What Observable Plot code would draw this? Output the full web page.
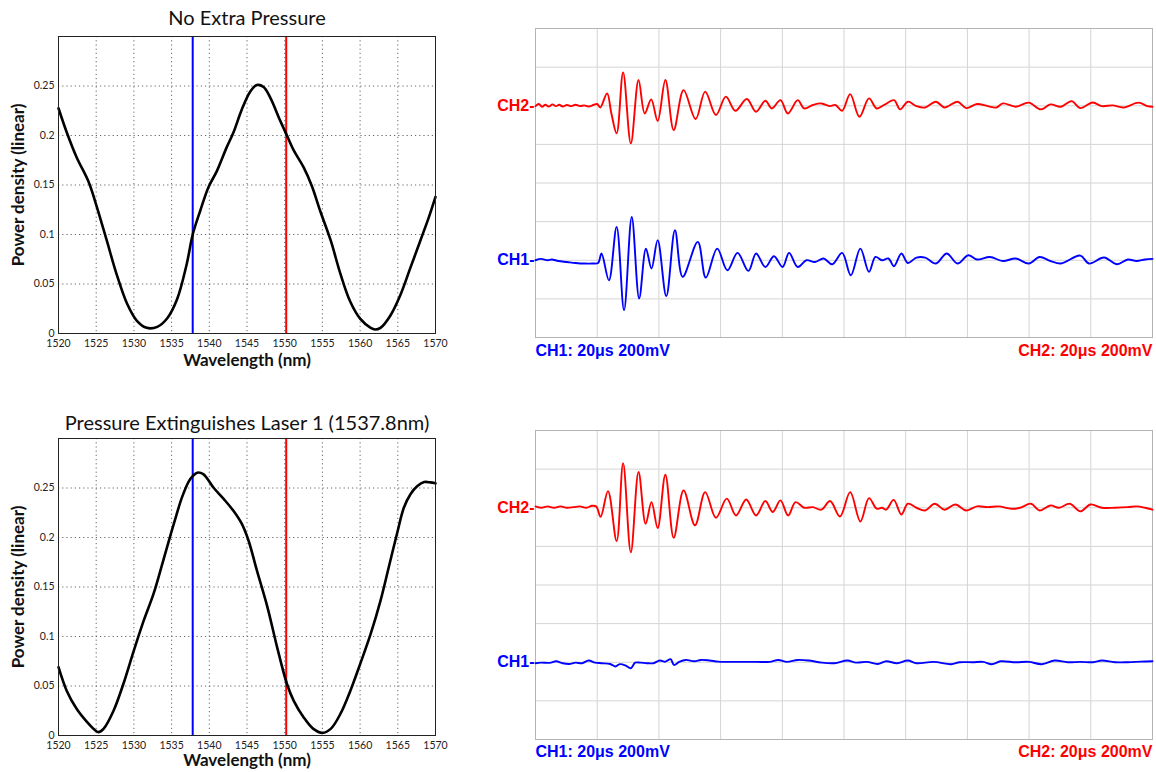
<!DOCTYPE html>
<html><head><meta charset="utf-8">
<script src="https://cdn.jsdelivr.net/npm/d3@7"></script>
<script src="https://cdn.jsdelivr.net/npm/@observablehq/plot@0.6"></script>
<style>
html,body{margin:0;padding:0;background:#fff;}
#root{position:relative;width:1156px;height:772px;overflow:hidden;background:#fff;}
#root > div{position:absolute;}
</style></head><body><div id="root"></div>
<script>
// ---------- Spectra (left) ----------
const wlTop = [1520,1521.1,1522.4,1524,1525.1,1526.4,1527.7,1529.1,1530.4,1531.7,1533.1,1534.4,1535.7,1537,1537.8,1538.8,1539.9,1541,1542.3,1543.2,1544.3,1545.4,1546.3,1547.2,1548.1,1549.4,1550.3,1551.2,1552.5,1553.6,1554.7,1556.1,1557.4,1558.7,1560,1561.4,1562,1562.7,1564,1565.4,1566.7,1568,1569.1,1570];
const pTop = [0.2275,0.203,0.178,0.153,0.1275,0.094,0.06,0.03,0.0128,0.0057,0.0067,0.0151,0.034,0.07,0.1,0.124,0.148,0.164,0.188,0.203,0.226,0.244,0.251,0.249,0.238,0.215,0.2,0.185,0.168,0.149,0.124,0.094,0.06,0.032,0.015,0.0057,0.004,0.0057,0.018,0.04,0.067,0.094,0.117,0.138];
const wlBot = [1520,1521.1,1522.4,1523.8,1524.9,1525.3,1526,1527.3,1528.6,1530,1531.3,1532.6,1533.9,1535.3,1536.4,1537.3,1537.8,1538.4,1539.2,1540.6,1541.9,1543.2,1544.3,1545.2,1546.3,1547.7,1549,1550.3,1551.2,1552.5,1553.8,1555,1556.1,1557.4,1558.7,1560,1561.4,1562.7,1563.8,1564.9,1565.8,1566.7,1567.6,1568.5,1569.3,1570];
const pBot = [0.069,0.045,0.027,0.0135,0.005,0.0034,0.007,0.025,0.052,0.086,0.116,0.143,0.177,0.214,0.241,0.257,0.262,0.2655,0.264,0.25,0.239,0.227,0.214,0.197,0.167,0.13,0.089,0.052,0.035,0.0185,0.0067,0.0027,0.0067,0.022,0.045,0.072,0.1026,0.136,0.17,0.204,0.23,0.244,0.252,0.256,0.2557,0.2547];
const laser1 = 1537.8, laser2 = 1550.2;
const wlTicks = [1520,1525,1530,1535,1540,1545,1550,1555,1560,1565,1570];
const pTicks = [0,0.05,0.1,0.15,0.2,0.25];
const specTitles = ["No Extra Pressure", "Pressure Extinguishes Laser 1 (1537.8nm)"];
const xLabel = "Wavelength (nm)";
const yLabel = "Power density (linear)";

// ---------- Oscilloscope traces (right), t in µs, v in mV ----------
const topCH2_t = [0,1.1,2.1,3.2,4.3,5.5,6.6,7.7,8.8,10.2,11.6,13,14.4,15.8,17.2,18.9,20,21,23.2,24.6,26.3,28.4,30.9,33.4,35.4,37.5,39.6,42.1,44.8,48,51.9,55,58.5,61.7,64.8,68.5,71.5,74.5,76.6,79.4,81.8,85,87.1,89.9,92.7,95.5,97.2,99.4,102,105,108.1,110.6,113,116.2,118.2,120.7,123.5,126.3,129.8,132.6,136.8,139.6,143.1,146.6,149.4,151.5,155.7,159.9,163.8,166.9,170.3,173.8,176.6,180.6,183.6,187.1,190.6,195.5,198.3,200];
const topCH2_v = [-2,9,-5,5,-4,7,-2,5,-4,4,-2,5,-2,2,-4,5,9,-9,64,-40,-143,173,-195,133,-40,33,-79,133,-126,81,-69,73,-48,47,-26,35,-31,26,-14,29,-40,29,-14,4,12,-2,4,-26,60,-57,38,-14,4,29,-19,21,-2,-9,21,-9,21,-12,9,-2,-9,12,-5,16,-19,7,-5,24,-12,17,-2,2,-9,16,-2,-5];
const topCH1_t = [0,1.8,3.9,5.3,7.4,10.2,13,15.8,18.6,20.3,21.4,23.8,26.3,28.7,31.2,33.6,35.8,37.6,39.6,42.4,45.2,47.7,52.6,55.2,58.9,62.2,65.5,69,71.5,74.5,77.3,80.1,82.2,85,87.8,90.6,93.4,96.2,99.4,102.2,105.3,108.1,110.2,112.3,114.4,116.2,118.6,120.7,123.5,126.3,129.8,133.3,136.8,140.3,143.1,147.3,151.5,155.7,159.9,163.4,166.9,170.3,176.6,179.4,184.3,188.5,192,194.8,197.6,200];
const topCH1_v = [0,7,0,4,-4,-9,-14,-17,-17,-14,35,-104,173,-259,224,-198,60,-43,104,-186,155,-86,95,-90,60,-52,38,-55,35,-35,21,-35,38,-35,0,-9,9,-21,38,-78,60,-60,17,0,9,-31,35,-14,14,14,-17,35,-17,26,4,17,-4,9,-17,17,-4,-17,24,-17,14,-21,4,-4,4,7];
const botCH2_t = [0,1.8,3.9,6,8.1,10.2,12.3,14.4,16.5,18.3,19.7,21.1,23.5,26.3,28.4,30.9,33.4,35.7,37.6,39.6,42.1,44.8,48,51.7,55,58.5,62,65,68.3,71.5,74.5,76.9,79.4,81.9,84.3,87.1,89.9,92.7,95.5,98.7,102,105.3,108.1,110.6,112.3,113.7,116.1,118.6,120.7,123.5,126.3,129.4,132.6,136.1,139.6,143.1,146.6,150.1,154.3,157.1,160.6,163.4,166.9,169.7,173.2,176.6,179.9,183.6,187.8,192,194.8,197.6,200];
const botCH2_v = [7,0,7,0,7,0,3,7,0,10,7,-47,86,-173,231,-231,185,-83,29,-105,171,-155,90,-91,81,-52,47,-40,43,-40,35,-22,38,-40,29,0,3,-10,35,-45,81,-71,50,-5,0,-10,41,-35,21,0,-14,21,-10,17,-14,7,3,7,-5,0,21,-14,12,0,21,-19,17,0,0,3,7,0,-10];
const botCH1_t = [0,1.8,4.6,6.7,8.8,10.9,13,15.1,17.2,19.3,21.4,24.2,25.9,27.3,29.1,30.9,32.3,34,36.1,38.2,40.3,42.1,43.8,44.9,46.6,48.7,51.5,53.6,56.4,59.2,62,66.2,71.7,75.9,78.7,81.5,85,88.5,92.7,96.9,101.1,103.9,107.4,110.9,113.7,117.2,120.7,123.5,129.1,134.7,137.5,141.7,145.1,147.9,150.8,155.7,159.9,164.1,168.3,172.5,176.6,180.8,183.6,187.8,192,196.2,200];
const botCH1_v = [-5,-2,-3,5,-5,-9,-2,-5,9,-2,-5,-9,-22,-10,-16,-31,-2,-2,-5,-5,9,3,16,-14,2,12,5,12,9,3,2,2,2,2,12,2,12,9,-2,-5,9,-2,2,-9,5,-5,9,-5,2,-10,0,0,2,-10,5,0,2,-10,9,0,2,0,9,0,0,3,5];
const chNames = ["CH1", "CH2"];
const chPos = [-2, 2];           // screen position of each channel, in divisions
const voltsPerDiv = 200;         // mV / div
const timeGrid = [20,40,60,80,100,120,140,160,180];
const divGrid = [-3,-2,-1,0,1,2,3];
const captions = ["CH1: 20\u03bcs 200mV", "CH2: 20\u03bcs 200mV"];

const BLUE = "#0000ff", RED = "#ff0000";
const root = document.getElementById("root");

function place(el, left, top) {
  const d = document.createElement("div");
  d.style.left = left + "px"; d.style.top = top + "px";
  d.appendChild(el); root.appendChild(d);
}

function spectrum(wl, p, title, o) {
  const data = wl.map((w, i) => ({w, p: p[i]}));
  return Plot.plot({
    width: 450, height: o.height,
    marginLeft: 58, marginRight: 15, marginTop: o.mt, marginBottom: o.mb,
    style: {fontFamily: "Lato, 'Open Sans', sans-serif", fontSize: "10.5px", color: "#222", background: "#fff", overflow: "visible"},
    x: {domain: [1520, 1570]},
    y: {domain: [0, 0.3]},
    marks: [
      Plot.gridX(wlTicks.slice(1, -1), {stroke: "#666", strokeOpacity: 1, strokeDasharray: "1.2,3"}),
      Plot.gridY(pTicks.slice(1), {stroke: "#666", strokeOpacity: 1, strokeDasharray: "1.2,3"}),
      Plot.ruleX([laser1], {stroke: BLUE, strokeWidth: 2}),
      Plot.ruleX([laser2], {stroke: RED, strokeWidth: 2}),
      Plot.line(data, {x: "w", y: "p", stroke: "#000", strokeWidth: 2.6, curve: "catmull-rom"}),
      Plot.frame({stroke: "#222"}),
      Plot.axisX(wlTicks, {tickSize: 0, tickPadding: 6, tickFormat: "d", label: null, fill: "#222"}),
      Plot.axisY(pTicks, {tickSize: 0, tickPadding: 4, tickFormat: d => String(d), label: null, fill: "#222"}),
      Plot.text([title], {frameAnchor: "top", lineAnchor: "middle", dy: o.titleDy, fontSize: 20, fill: "#111"}),
      Plot.text([xLabel], {frameAnchor: "bottom", lineAnchor: "middle", dy: o.xlDy, fontSize: 17, fontWeight: "bold", fill: "#111"}),
      Plot.text([yLabel], {frameAnchor: "left", textAnchor: "middle", lineAnchor: "middle", dx: -40, rotate: -90, fontSize: 17, fontWeight: "bold", fill: "#111"})
    ]
  });
}

function scope(ch1t, ch1v, ch2t, ch2v, o) {
  const tr1 = ch1t.map((t, i) => ({t, y: chPos[0] + ch1v[i] / voltsPerDiv}));
  const tr2 = ch2t.map((t, i) => ({t, y: chPos[1] + ch2v[i] / voltsPerDiv}));
  const labels = chNames.map((n, i) => ({t: 0, y: chPos[i], text: n + "-", c: i === 0 ? BLUE : RED}));
  const font = {fontFamily: "'Liberation Sans', Arial, sans-serif", fontSize: 16, fontWeight: "bold"};
  return Plot.plot({
    width: 676, height: o.height,
    marginLeft: 55, marginRight: 4, marginTop: o.mt, marginBottom: o.mb,
    style: {background: "#fff", overflow: "visible"},
    x: {domain: [0, 200], axis: null},
    y: {domain: [-4, 4], axis: null},
    marks: [
      Plot.gridX(timeGrid, {stroke: "#d4d4d4", strokeOpacity: 1, strokeWidth: 1}),
      Plot.gridY(divGrid, {stroke: "#d4d4d4", strokeOpacity: 1, strokeWidth: 1}),
      Plot.frame({stroke: "#b4b4b4"}),
      Plot.line(tr2, {x: "t", y: "y", stroke: RED, strokeWidth: 1.9, curve: "catmull-rom"}),
      Plot.line(tr1, {x: "t", y: "y", stroke: BLUE, strokeWidth: 1.9, curve: "catmull-rom"}),
      Plot.text(labels, {x: "t", y: "y", text: "text", fill: "c", textAnchor: "end", dx: -1, ...font}),
      Plot.text([captions[0]], {frameAnchor: "bottom-left", textAnchor: "start", lineAnchor: "middle", dy: o.capDy, fill: BLUE, ...font}),
      Plot.text([captions[1]], {frameAnchor: "bottom-right", textAnchor: "end", lineAnchor: "middle", dy: o.capDy, fill: RED, ...font})
    ]
  });
}

place(spectrum(wlTop, pTop, specTitles[0], {height: 375, mt: 36, mb: 42, titleDy: -18, xlDy: 27}), 0, 0);
place(spectrum(wlBot, pBot, specTitles[1], {height: 372, mt: 38, mb: 37, titleDy: -15, xlDy: 25}), 0, 400);
place(scope(topCH1_t, topCH1_v, topCH2_t, topCH2_v, {height: 372, mt: 28, mb: 35, capDy: 13}), 480, 0);
place(scope(botCH1_t, botCH1_v, botCH2_t, botCH2_v, {height: 372, mt: 30, mb: 33, capDy: 12.5}), 480, 400);
</script></body></html>
